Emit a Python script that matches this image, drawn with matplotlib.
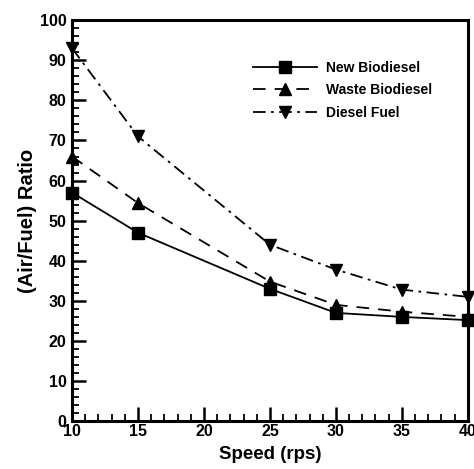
import matplotlib
matplotlib.use("Agg")
import matplotlib.pyplot as plt
from matplotlib.ticker import MultipleLocator

plt.rcParams['font.family'] = ['Liberation Sans', 'DejaVu Sans']
plt.rcParams['font.weight'] = 'bold'

# data
speed = [10, 15, 25, 30, 35, 40]
new_bio = [57, 47, 33, 27, 26, 25.2]
waste_bio = [66, 54.4, 34.8, 29, 27.3, 26]
diesel = [93, 71, 44, 37.8, 32.8, 31]

fig = plt.figure(figsize=(4.74, 4.69), dpi=100)
ax = fig.add_axes([0.152, 0.102, 0.835, 0.855])

ax.plot(speed, new_bio, color='black', lw=1.3, ls='-', marker='s', ms=8,
        label='New Biodiesel', clip_on=False, zorder=3)
ax.plot(speed, waste_bio, color='black', lw=1.3, ls=(0, (7, 5)), marker='^', ms=8,
        label='Waste Biodiesel', clip_on=False, zorder=3)
ax.plot(speed, diesel, color='black', lw=1.3, ls=(0, (7, 3, 1.5, 3)), marker='v', ms=8,
        label='Diesel Fuel', clip_on=False, zorder=3)

ax.set_xlim(10, 40)
ax.set_ylim(0, 100)
ax.xaxis.set_major_locator(MultipleLocator(5))
ax.xaxis.set_minor_locator(MultipleLocator(1))
ax.yaxis.set_major_locator(MultipleLocator(10))
ax.yaxis.set_minor_locator(MultipleLocator(2))
ax.tick_params(which='major', direction='in', length=10, width=1.8, labelsize=11.5)
ax.tick_params(axis='x', which='major', pad=2)
ax.tick_params(axis='y', which='major', pad=4)
ax.tick_params(which='minor', direction='in', length=5, width=1.3)
for s in ax.spines.values():
    s.set_linewidth(2.2)

ax.set_xlabel('Speed (rps)', fontsize=13.5, fontweight='bold', labelpad=5)
ax.set_ylabel('(Air/Fuel) Ratio', fontsize=14.5, fontweight='bold', labelpad=2)

leg = ax.legend(loc='upper left', bbox_to_anchor=(0.425, 0.93), frameon=False,
                fontsize=10, handlelength=4.6, labelspacing=0.62, handletextpad=0.7)
for t in leg.get_texts():
    t.set_fontweight('bold')

fig.savefig('out.png', dpi=100)
